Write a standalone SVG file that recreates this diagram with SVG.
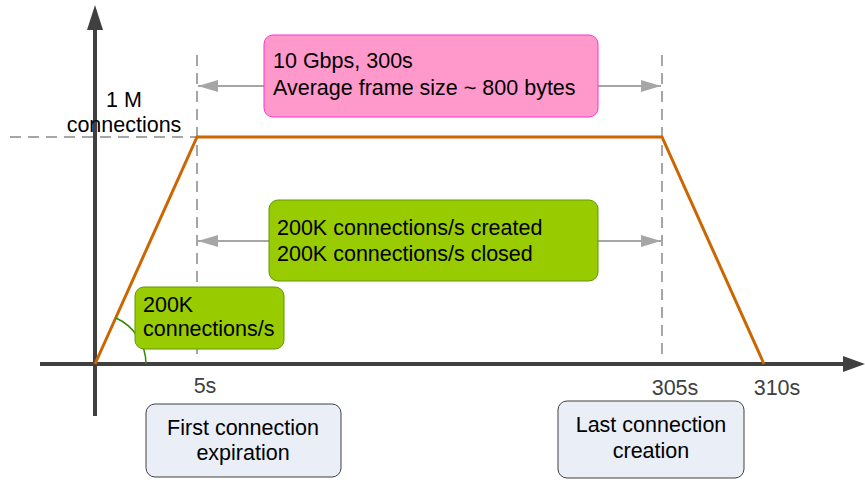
<svg xmlns="http://www.w3.org/2000/svg" width="865" height="483" viewBox="0 0 865 483">
  <style>
    text { font-family: "Liberation Sans", Arial, sans-serif; font-size: 21.5px; fill: #000; }
    .tick { fill: #404040; }
    .dash { stroke: #A6A6A6; stroke-width: 2; stroke-dasharray: 11 7; fill: none; }
    .span { stroke: #A6A6A6; stroke-width: 2; fill: none; }
    .axis { stroke: #404040; stroke-width: 4; fill: none; }
    .note { fill: #E9EEF7; stroke: #404040; stroke-width: 1; }
  </style>
  <defs>
    <marker id="grey-head" viewBox="0 0 10 10" refX="10" refY="5" markerWidth="10" markerHeight="6" markerUnits="strokeWidth" orient="auto" preserveAspectRatio="none">
      <path d="M0,0 L10,5 L0,10 z" fill="#A6A6A6"/>
    </marker>
  </defs>

  <!-- axes -->
  <g id="axes">
    <line class="axis" x1="95" y1="28" x2="95" y2="416"/>
    <path d="M95,5 L103,30 L87,30 z" fill="#404040"/>
    <line class="axis" x1="40" y1="364" x2="845" y2="364"/>
    <path d="M865,364 L843,356 L843,372 z" fill="#404040"/>
  </g>

  <!-- reference lines -->
  <g id="guides">
    <line class="dash" x1="10" y1="137" x2="197" y2="137"/>
    <line class="dash" x1="197" y1="55" x2="197" y2="360"/>
    <line class="dash" x1="662" y1="55" x2="662" y2="360"/>
  </g>

  <!-- connectors -->
  <g id="connectors">
    <line class="span" x1="264" y1="86" x2="198" y2="86" marker-end="url(#grey-head)"/>
    <line class="span" x1="598" y1="86" x2="661" y2="86" marker-end="url(#grey-head)"/>
    <line class="span" x1="269" y1="241" x2="198" y2="241" marker-end="url(#grey-head)"/>
    <line class="span" x1="598" y1="241" x2="661" y2="241" marker-end="url(#grey-head)"/>
  </g>

  <!-- connection count curve -->
  <g id="curve">
    <polyline points="95,364 197,137 662,137 764,364" fill="none" stroke="#CC6600" stroke-width="3" stroke-linejoin="miter"/>
    <path d="M116,318 A51,51 0 0 1 146,364" fill="none" stroke="#2E8B00" stroke-width="1.5"/>
  </g>

  <!-- axis labels -->
  <g id="labels">
    <text x="124" y="107" text-anchor="middle">1 M</text>
    <text x="124" y="132" text-anchor="middle">connections</text>
    <text class="tick" x="205" y="393" text-anchor="middle">5s</text>
    <text class="tick" x="675" y="395" text-anchor="middle">305s</text>
    <text class="tick" x="777" y="395" text-anchor="middle">310s</text>
  </g>

  <g id="throughput">
    <rect x="264" y="35" width="334" height="82" rx="9" fill="#FF99CC" stroke="#FF33CC" stroke-width="1"/>
    <text x="273" y="68">10 Gbps, 300s</text>
    <text x="273" y="95">Average frame size ~ 800 bytes</text>
  </g>

  <g id="steady-rate">
    <rect x="269" y="200" width="329" height="81" rx="9" fill="#99CC00" stroke="#5E9900" stroke-width="1"/>
    <text x="277" y="235">200K connections/s created</text>
    <text x="277" y="261">200K connections/s closed</text>
  </g>

  <g id="ramp-rate">
    <rect x="135" y="287" width="149" height="62" rx="9" fill="#99CC00" stroke="#5E9900" stroke-width="1"/>
    <text x="143" y="312">200K</text>
    <text x="143" y="336">connections/s</text>
  </g>

  <g id="first-expiration">
    <rect class="note" x="146" y="404" width="195" height="73" rx="9"/>
    <text x="243" y="435" text-anchor="middle">First connection</text>
    <text x="243" y="460" text-anchor="middle">expiration</text>
  </g>

  <g id="last-creation">
    <rect class="note" x="558" y="401" width="186" height="77" rx="9"/>
    <text x="651" y="432" text-anchor="middle">Last connection</text>
    <text x="651" y="458" text-anchor="middle">creation</text>
  </g>
</svg>
